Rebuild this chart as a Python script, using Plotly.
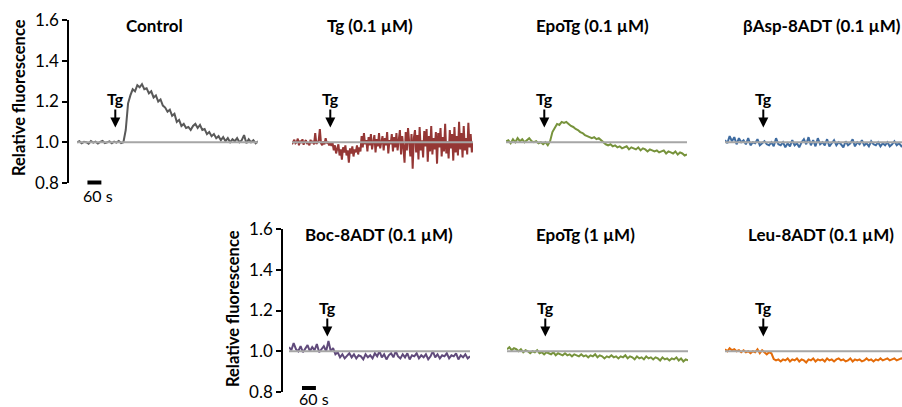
import plotly.graph_objects as go

W, H = 902, 407
FONT = "Lato"
STEP = 10          # seconds between samples (most traces)
STEP_FINE = 5      # seconds between samples (Tg 0.1 µM trace)
TG_TIME = 165      # Tg addition (s)
SCALE_LEN = 60     # scale bar length (s)

Y_TICKS = [0.8, 1.0, 1.2, 1.4, 1.6]
Y_TICK_LABELS = ["0.8", "1.0", "1.2", "1.4", "1.6"]

TITLES = ["Control", "Tg (0.1 µM)", "EpoTg (0.1 µM)", "βAsp-8ADT (0.1 µM)",
          "Boc-8ADT (0.1 µM)", "EpoTg (1 µM)", "Leu-8ADT (0.1 µM)"]

control = [1.000, 1.005, 0.995, 1.002, 1.000, 0.993, 1.006, 0.998, 1.003, 0.994,
           1.002, 1.007, 0.996, 1.000, 1.004, 0.995, 1.003, 0.998, 1.006, 0.996,
           1.000, 1.060, 1.190, 1.230, 1.260, 1.250, 1.280, 1.270, 1.285, 1.260,
           1.265, 1.240, 1.250, 1.220, 1.230, 1.200, 1.210, 1.180, 1.170, 1.150,
           1.160, 1.130, 1.140, 1.100, 1.110, 1.080, 1.090, 1.070, 1.075, 1.060,
           1.080, 1.090, 1.070, 1.085, 1.060, 1.065, 1.040, 1.050, 1.030, 1.040,
           1.020, 1.030, 1.010, 1.025, 1.005, 1.020, 1.000, 1.015, 1.005, 1.020,
           1.000, 1.010, 1.035, 0.995, 1.015, 1.000, 1.010, 0.995, 1.005]

tg01 = [0.990, 1.005, 1.012, 0.995, 1.000, 1.018, 0.985, 1.008, 0.996, 1.015,
        0.988, 1.003, 1.010, 0.992, 1.000, 0.985, 1.012, 0.997, 1.006, 0.990,
        1.045, 0.992, 1.000, 1.008, 1.065, 0.995, 0.985, 1.005, 0.990, 1.020,
        0.995, 1.002, 0.985,
        1.000, 0.982, 0.995, 0.960, 0.985, 0.945, 0.975, 0.990, 0.935, 0.965,
        0.915, 0.975, 0.950, 0.985, 0.935, 0.960, 0.900, 0.970, 0.945, 0.980,
        0.930, 0.965, 0.950, 0.985, 0.940, 0.975, 0.955,
        1.030, 0.975, 1.045, 0.990, 1.010, 0.955, 1.025, 0.985, 1.040, 0.965,
        1.005, 1.035, 0.950, 1.015, 0.980, 1.045, 0.970, 1.000, 1.030, 0.960,
        1.020, 0.985, 1.050, 0.945, 1.010, 0.990, 1.040, 0.955, 1.025, 0.975,
        1.045, 0.960, 1.015,
        1.060, 0.940, 1.030, 0.975, 0.900, 1.050, 0.960, 1.070, 0.985, 0.930,
        1.040, 0.870, 1.020, 1.060, 0.950, 1.035, 0.915, 1.075, 0.960, 1.010,
        0.925, 1.055, 0.980, 1.065, 0.905, 1.030, 0.955, 1.080, 0.940, 1.020,
        0.965, 1.050, 0.895, 1.045, 0.975, 1.070, 0.930, 1.025, 0.955, 1.090,
        0.945, 1.005, 0.920, 1.060, 0.970, 1.040, 0.910, 1.075, 0.950, 1.030,
        0.935, 1.100, 0.965, 1.045, 0.925, 1.080, 0.960, 1.020, 0.940, 1.095,
        0.975, 1.040, 0.950, 1.000]

epo01 = [1.005, 1.010, 0.995, 1.015, 1.000, 1.020, 1.005, 1.015, 1.000, 1.010,
         1.020, 1.005, 1.000, 1.005, 0.995, 1.000, 0.990, 1.000, 0.985, 1.005,
         1.050, 1.070, 1.090, 1.085, 1.100, 1.095, 1.100, 1.090, 1.080, 1.075,
         1.065, 1.060, 1.050, 1.045, 1.035, 1.030, 1.025, 1.020, 1.025, 1.015,
         1.020, 1.010, 1.000, 0.990, 0.985, 0.990, 0.980, 0.985, 0.975, 0.980,
         0.970, 0.975, 0.980, 0.965, 0.975, 0.970, 0.965, 0.975, 0.960, 0.970,
         0.965, 0.955, 0.965, 0.960, 0.955, 0.960, 0.950, 0.955, 0.960, 0.945,
         0.955, 0.950, 0.945, 0.955, 0.940, 0.950, 0.945, 0.935, 0.940]

basp = [1.010, 0.995, 1.030, 1.005, 1.025, 0.990, 1.020, 1.000, 1.010, 0.990,
        1.020, 0.985, 1.000, 0.995, 1.015, 0.985, 0.995, 1.005, 0.990, 0.985,
        1.000, 0.980, 1.020, 0.990, 0.985, 1.000, 0.975, 0.995, 0.980, 1.010,
        0.985, 0.995, 0.975, 1.000, 1.015, 0.990, 1.025, 0.985, 1.010, 0.980,
        1.020, 0.990, 1.000, 0.985, 1.015, 0.980, 0.995, 1.010, 0.985, 1.000,
        0.990, 0.975, 1.005, 0.985, 0.995, 1.015, 0.980, 1.000, 0.990, 1.010,
        0.985, 0.995, 0.980, 1.005, 0.990, 0.985, 1.000, 0.980, 0.995, 0.985,
        1.000, 0.980, 0.990, 1.005, 0.985, 0.995, 0.980, 0.990, 0.985]

boc = [1.020, 1.005, 1.040, 1.010, 1.000, 1.025, 0.995, 1.015, 1.030, 1.000,
       1.020, 1.005, 1.035, 0.995, 1.010, 1.025, 1.000, 1.050, 1.000, 1.015,
       0.985, 0.995, 0.970, 0.985, 0.965, 0.980, 0.990, 0.970, 0.985, 0.965,
       0.980, 0.975, 0.960, 0.985, 0.970, 0.980, 0.965, 0.990, 0.975, 1.000,
       0.970, 0.985, 0.960, 0.980, 0.990, 0.970, 1.000, 0.975, 0.965, 0.985,
       0.970, 0.990, 0.960, 0.980, 0.975, 0.990, 0.965, 0.980, 0.970, 0.985,
       0.960, 0.975, 1.000, 0.970, 0.985, 0.965, 0.980, 0.975, 0.990, 0.965,
       0.980, 0.975, 0.990, 0.960, 0.980, 0.970, 0.985, 0.965, 0.975]

epo1 = [1.010, 1.020, 1.005, 1.015, 1.010, 1.000, 1.010, 0.995, 1.005, 1.000,
        0.990, 1.000, 0.995, 1.005, 0.990, 0.995, 0.985, 0.995, 0.990, 0.985,
        0.995, 0.980, 0.990, 0.985, 0.980, 0.990, 0.980, 0.985, 0.975, 0.985,
        0.980, 0.975, 0.985, 0.975, 0.980, 0.970, 0.980, 0.975, 0.985, 0.970,
        0.980, 0.975, 0.965, 0.975, 0.970, 0.980, 0.970, 0.975, 0.965, 0.975,
        0.970, 0.980, 0.965, 0.975, 0.970, 0.960, 0.975, 0.965, 0.970, 0.960,
        0.975, 0.965, 0.970, 0.960, 0.970, 0.965, 0.955, 0.970, 0.960, 0.965,
        0.955, 0.965, 0.960, 0.970, 0.955, 0.965, 0.950, 0.960, 0.955]

leu = [1.010, 1.000, 1.015, 1.005, 1.010, 1.000, 1.005, 0.995, 1.005, 0.995,
       1.000, 0.990, 1.000, 0.995, 1.010, 0.990, 1.005, 0.995, 0.985, 0.995,
       0.990, 0.962, 0.955, 0.960, 0.950, 0.960, 0.955, 0.965, 0.950, 0.960,
       0.955, 0.965, 0.950, 0.960, 0.955, 0.945, 0.960, 0.955, 0.965, 0.950,
       0.960, 0.955, 0.960, 0.950, 0.965, 0.955, 0.960, 0.950, 0.960, 0.965,
       0.955, 0.960, 0.950, 0.955, 0.965, 0.950, 0.960, 0.955, 0.960, 0.950,
       0.955, 0.965, 0.955, 0.960, 0.950, 0.960, 0.955, 0.965, 0.955, 0.960,
       0.965, 0.955, 0.960, 0.965, 0.955, 0.960, 0.965, 0.960, 0.965]

SERIES = [control, tg01, epo01, basp, boc, epo1, leu]
STEPS = [STEP, STEP_FINE, STEP, STEP, STEP, STEP, STEP]
COLORS = ["#595959", "#953735", "#77933C", "#3E6BA0", "#604A7B", "#77933C", "#E46C0A"]

# layout geometry (pixels)
S_PER_PX = 780 / 181
PANEL_PX = [(77, 258), (292, 473), (506, 687), (725, 902),
            (289, 470), (507, 688), (725, 902)]
ROW_OF = [0, 0, 0, 0, 1, 1, 1]
ROW_Y_PX = [(20, 183), (229, 392)]
TITLE_POS = [(154.5, 25), (370, 25), (592, 25), (822, 25),
             (378.5, 235), (585, 235), (821, 235)]
YAXIS_X_PX = [68, 282]
YTITLE_POS = [(19, 98), (233, 309)]
SCALE_START = [45, 56]
SCALE_BAR_Y_PX = [182.5, 388]
SCALE_TXT_POS = [(98, 195), (314, 398.5)]

def px_y(p):
    return 1 - p / H

fig = go.Figure()
layout = dict(width=W, height=H,
              margin=dict(l=0, r=0, t=0, b=0, pad=0, autoexpand=False),
              paper_bgcolor="white", plot_bgcolor="rgba(0,0,0,0)",
              showlegend=False, font=dict(family=FONT, color="black"))
annotations = []

def text_note(x_px, y_px, text, size, angle=0):
    return dict(x=x_px / W, y=px_y(y_px), xref="paper", yref="paper",
                xanchor="center", yanchor="middle", showarrow=False,
                textangle=angle, text=text,
                font=dict(size=size, family=FONT, color="black"))

for r in range(2):
    ykey = "yaxis" if r == 0 else "yaxis2"
    y0, y1 = ROW_Y_PX[r]
    layout[ykey] = dict(domain=[px_y(y1), px_y(y0)], range=[0.8, 1.6],
                        anchor="free", position=YAXIS_X_PX[r] / W,
                        showline=True, linecolor="black", linewidth=1.5,
                        ticks="outside", ticklen=5, tickwidth=1.5, tickcolor="black",
                        tickvals=Y_TICKS, ticktext=Y_TICK_LABELS,
                        tickfont=dict(size=17, family=FONT, color="black"),
                        showgrid=False, zeroline=False, fixedrange=True,
                        automargin=False)
    annotations.append(text_note(YTITLE_POS[r][0], YTITLE_POS[r][1],
                                 "<b>Relative fluorescence</b>", 16.5, angle=-90))

for i, vals in enumerate(SERIES):
    n = i + 1
    xid = "x" if n == 1 else f"x{n}"
    yid = "y" if ROW_OF[i] == 0 else "y2"
    x0, x1 = PANEL_PX[i]
    layout["xaxis" if n == 1 else f"xaxis{n}"] = dict(
        domain=[x0 / W, x1 / W], range=[0, (x1 - x0) * S_PER_PX],
        anchor=yid, visible=False, fixedrange=True, automargin=False)
    t = [k * STEPS[i] for k in range(len(vals))]
    fig.add_trace(go.Scatter(x=t, y=vals, mode="lines", xaxis=xid, yaxis=yid,
                             line=dict(color=COLORS[i], width=2), hoverinfo="skip"))
    fig.add_trace(go.Scatter(x=[t[0], t[-1]], y=[1.0, 1.0], mode="lines",
                             xaxis=xid, yaxis=yid,
                             line=dict(color="#A6A6A6", width=2), hoverinfo="skip"))
    annotations.append(dict(x=TG_TIME, y=1.072, xref=xid, yref=yid, ax=0, ay=-29,
                            text="<b>Tg</b>", showarrow=True, arrowhead=2,
                            arrowsize=1, arrowwidth=2, arrowcolor="black",
                            font=dict(size=16, family=FONT, color="black")))
    tx, ty = TITLE_POS[i]
    annotations.append(text_note(tx, ty, f"<b>{TITLES[i]}</b>", 17))

# scale bars on small helper y axes
for r, (xid, yname, ykey) in enumerate([("x", "y3", "yaxis3"), ("x5", "y4", "yaxis4")]):
    cy = SCALE_BAR_Y_PX[r]
    layout[ykey] = dict(domain=[px_y(cy + 6.5), px_y(cy - 6.5)], range=[0, 1],
                        anchor=xid, visible=False, fixedrange=True)
    fig.add_trace(go.Scatter(x=[SCALE_START[r], SCALE_START[r] + SCALE_LEN], y=[0.5, 0.5],
                             mode="lines", xaxis=xid, yaxis=yname,
                             line=dict(color="black", width=4), hoverinfo="skip"))
    sx, sy = SCALE_TXT_POS[r]
    annotations.append(text_note(sx, sy, f"{SCALE_LEN} s", 16))

layout["annotations"] = annotations
fig.update_layout(**layout)
fig.write_html("out.html", config={"displayModeBar": False})
